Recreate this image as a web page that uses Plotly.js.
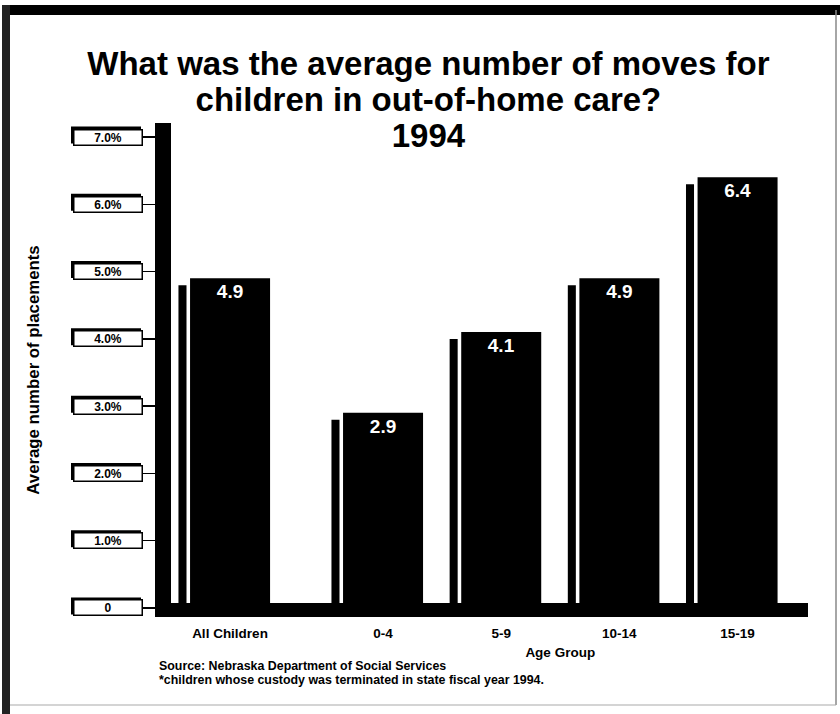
<!DOCTYPE html>
<html>
<head>
<meta charset="utf-8">
<script src="https://cdn.plot.ly/plotly-3.0.1.min.js"></script>
<style>
  html, body { margin: 0; padding: 0; background: #ffffff; }
  #chart { width: 840px; height: 714px; }
</style>
</head>
<body>
<div id="chart"></div>
<script>
// ---- data ----
const categories = ['All Children', '0-4', '5-9', '10-14', '15-19'];
const avgMoves = [4.9, 2.9, 4.1, 4.9, 6.4];
const valueLabels = ['4.9', '2.9', '4.1', '4.9', '6.4'];
const tickValues = [0, 1, 2, 3, 4, 5, 6, 7];
const tickLabels = ['0', '1.0%', '2.0%', '3.0%', '4.0%', '5.0%', '6.0%', '7.0%'];
const titleLines = ['What was the average number of moves for', 'children in out-of-home care?', '1994'];
const yTitle = 'Average number of placements';
const xTitle = 'Age Group';
const footLines = ['Source: Nebraska Department of Social Services',
                   '*children whose custody was terminated in state fiscal year 1994.'];

// ---- layout geometry (px of the 840x714 page) ----
const W = 840, H = 714;
const M = { l: 155, r: 32, t: 123, b: 97 };
const PW = W - M.l - M.r, PH = H - M.t - M.b;
const px = v => (v - M.l) / PW;          // page x -> paper x
const py = v => (H - M.b - v) / PH;      // page y -> paper y

const FONT = 'Liberation Sans, Arial, Helvetica, sans-serif';
const black = '#000000';

const yRange = [-0.134, 7.208];
const shadowDrop = 0.104;                // shadow bars sit a little lower
const mainOffset = -0.338, mainWidth = 0.677;
const shadeOffset = -0.436, shadeWidth = 0.068;

const firstCat = categories.slice(0, 1), restCat = categories.slice(1);
const firstVal = avgMoves.slice(0, 1), restVal = avgMoves.slice(1);
const firstLbl = valueLabels.slice(0, 1), restLbl = valueLabels.slice(1);

function shadowTrace(x, y, xa) {
  return { type: 'bar', x: x, y: y, xaxis: xa, yaxis: 'y2',
    offset: shadeOffset, width: shadeWidth,
    marker: { color: black, line: { width: 0 } }, hoverinfo: 'skip', showlegend: false };
}
function mainTrace(x, y, t, xa) {
  return { type: 'bar', x: x, y: y, xaxis: xa, yaxis: 'y',
    offset: mainOffset, width: mainWidth,
    text: t, textposition: 'inside', insidetextanchor: 'end', textangle: 0,
    constraintext: 'none',
    textfont: { family: FONT, size: 19, color: '#ffffff', weight: 700 },
    marker: { color: black, line: { width: 0 } }, hoverinfo: 'skip', showlegend: false };
}

const traces = [
  shadowTrace(firstCat, firstVal, 'x2'),
  mainTrace(firstCat, firstVal, firstLbl, 'x2'),
  shadowTrace(restCat, restVal, 'x'),
  mainTrace(restCat, restVal, restLbl, 'x')
];

const BOXW = 70, BOXH = 17;
const shapes = [];
const annotations = [];
tickValues.forEach((v, i) => {
  // dark offset "shadow" behind each tick-label box
  shapes.push({ type: 'rect', xref: 'paper', xsizemode: 'pixel', xanchor: 0,
    x0: -12 - BOXW - 2, x1: -12 - 2,
    yref: 'y', ysizemode: 'pixel', yanchor: v, y0: -BOXH / 2 + 2, y1: BOXH / 2 + 2,
    fillcolor: black, line: { width: 0 }, layer: 'above' });
  annotations.push({ xref: 'paper', yref: 'y', x: 0, y: v, xanchor: 'right', yanchor: 'middle',
    xshift: -12, showarrow: false, text: tickLabels[i],
    font: { family: FONT, size: 12, color: black, weight: 700 },
    width: BOXW - 5, height: BOXH - 5, bgcolor: '#ffffff', bordercolor: black, borderwidth: 1.5, borderpad: 1 });
});
annotations.push({ xref: 'paper', yref: 'paper', x: px(157), y: py(657), xanchor: 'left', yanchor: 'top',
  showarrow: false, align: 'left',
  text: footLines.map(s => '<span style="font-size:12.4px">' + s + '</span>').join('<br>'),
  font: { family: FONT, size: 10.5, color: black, weight: 700 } });

shapes.push(
  // thick vertical axis bar
  { type: 'rect', xref: 'paper', yref: 'paper', x0: 0, x1: px(171), y0: 0, y1: 1,
    fillcolor: black, line: { width: 0 }, layer: 'above' },
  // thick baseline bar
  { type: 'rect', xref: 'paper', yref: 'paper', x0: 0, x1: 1, y0: 0, y1: py(603),
    fillcolor: black, line: { width: 0 }, layer: 'above' },
  // page frame
  { type: 'rect', xref: 'paper', yref: 'paper', x0: px(7), x1: px(840), y0: py(15), y1: py(5),
    fillcolor: black, line: { width: 0 }, layer: 'above' },
  { type: 'rect', xref: 'paper', yref: 'paper', x0: px(2), x1: px(10), y0: py(714), y1: py(5),
    fillcolor: '#222222', line: { width: 0 }, layer: 'above' },
  { type: 'line', xref: 'paper', yref: 'paper', x0: px(836), x1: px(836), y0: py(705), y1: py(10),
    line: { color: '#888888', width: 1.5 }, layer: 'above' },
  { type: 'line', xref: 'paper', yref: 'paper', x0: px(10), x1: px(836), y0: py(705), y1: py(705),
    line: { color: '#aaaaaa', width: 1.2 }, layer: 'above' }
);

const catAxis = {
  type: 'category', anchor: 'y', showgrid: false, zeroline: false, showline: false,
  ticks: '', ticklabelstandoff: 6,
  tickfont: { family: FONT, size: 13.5, color: black, weight: 700 }, fixedrange: true
};

const layout = {
  width: W, height: H,
  margin: M,
  paper_bgcolor: '#ffffff', plot_bgcolor: 'rgba(0,0,0,0)',
  showlegend: false, hovermode: false, barmode: 'overlay',
  title: {
    text: titleLines.map(s => '<span style="font-size:33px">' + s + '</span>').join('<br>'),
    font: { family: FONT, size: 27.5, color: black, weight: 700 },
    x: 0.51, xanchor: 'center', y: 1 - 75 / H, yanchor: 'top'
  },
  xaxis: Object.assign({}, catAxis, {
    domain: [px(323.9), px(796.6)], range: [-0.5, 3.5],
    title: { text: xTitle, font: { family: FONT, size: 13.5, color: black, weight: 700 }, standoff: 8 }
  }),
  xaxis2: Object.assign({}, catAxis, { domain: [px(170.9), px(289.1)], range: [-0.5, 0.5] }),
  yaxis: {
    range: yRange, anchor: 'free', position: 0, domain: [0, 1],
    showgrid: false, zeroline: false, showline: false,
    ticks: 'outside', ticklen: 12, tickwidth: 1.5, tickcolor: black,
    tickvals: tickValues, showticklabels: false, fixedrange: true,
    title: { text: yTitle, font: { family: FONT, size: 16.8, color: black, weight: 700 }, standoff: 98 }
  },
  yaxis2: {
    range: [yRange[0] + shadowDrop, yRange[1] + shadowDrop], overlaying: 'y', anchor: 'free', position: 0,
    visible: false, fixedrange: true
  },
  annotations: annotations,
  shapes: shapes
};

Plotly.newPlot('chart', traces, layout, { staticPlot: true, displayModeBar: false });
</script>
</body>
</html>
